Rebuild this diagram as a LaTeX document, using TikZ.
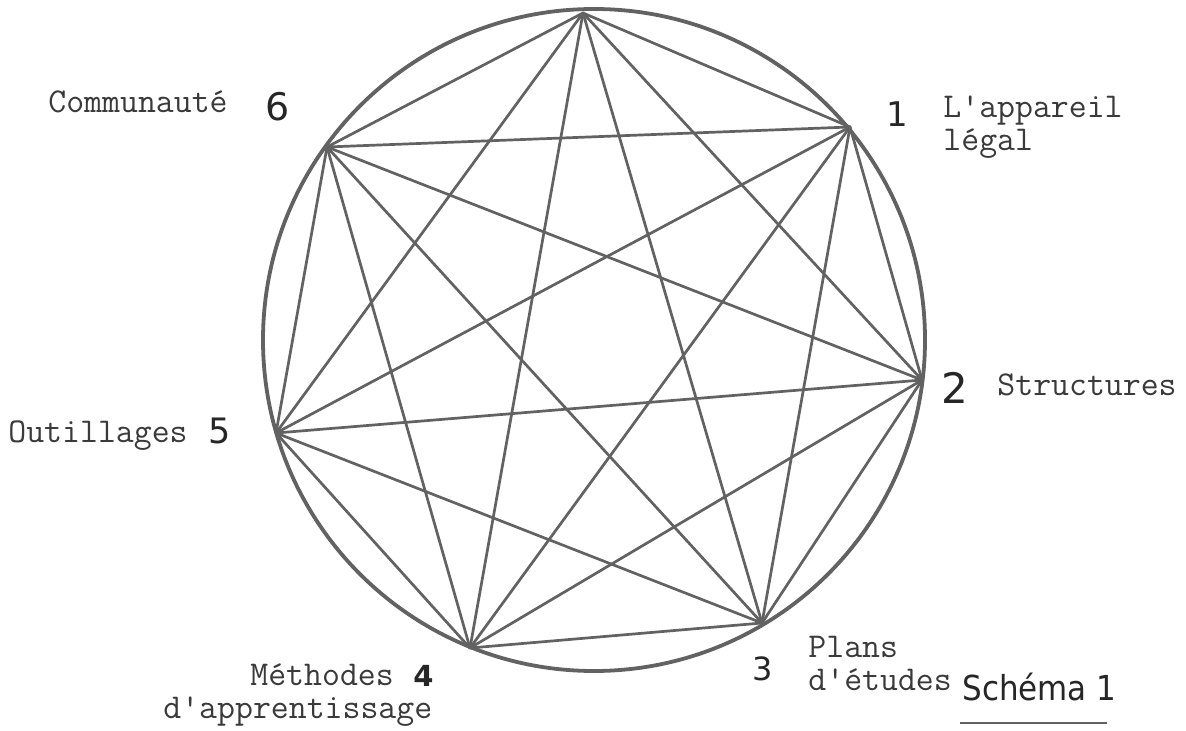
\documentclass[tikz,border=0pt]{standalone}
\usepackage{fontspec}
\newfontfamily\numfont{DejaVu Sans}
\newfontfamily\titlefont{DejaVu Sans Condensed}
\definecolor{linegray}{HTML}{626262}
\definecolor{textgray}{HTML}{3A3A3A}
\begin{document}
\begin{tikzpicture}[x=0.5pt,y=-0.5pt,
  edge/.style={draw=linegray,line width=1.35pt,line cap=round},
  rim/.style={draw=linegray,line width=1.9pt},
  lbl/.style={inner sep=0pt,anchor=base west,text=textgray,font=\ttfamily\fontsize{17.4}{16.5}\selectfont,align=left},
  num/.style={inner sep=0pt,anchor=base west,text=black!85}]
\useasboundingbox (0,0) rectangle (1186,731);
\fill[white] (0,0) rectangle (1186,731);
\coordinate (c) at (594,340);
\draw[rim] (c) circle[radius=165.5pt];
\coordinate (v0) at (583,13);
\coordinate (v1) at (850,127);
\coordinate (v2) at (922,380);
\coordinate (v3) at (762,623);
\coordinate (v4) at (470,648);
\coordinate (v5) at (276,433);
\coordinate (v6) at (327,147);
\foreach \i in {0,...,5}{
  \pgfmathtruncatemacro\s{\i+1}
  \foreach \j in {\s,...,6}{
    \draw[edge] (v\i) -- (v\j);
  }
}
% labels
\node[lbl] (tcom) at (48,113) {Communauté};
\node[lbl] (tapp) at (943,151) {L'appareil\\légal};
\node[lbl] (tstr) at (997,395) {Structures};
\node[lbl] (tout) at (8,442) {Outillages};
\node[lbl] (tmet) at (250,685) {Méthodes};
\node[lbl] (tmet2) at (163,718) {d'apprentissage};
\node[lbl] (tpla) at (808,690) {Plans\\d'études};
% numbers
\node[num,font=\numfont\fontsize{19}{19}\selectfont] (n6) at (265,121) {6};
\node[num,font=\numfont\fontsize{17}{17}\selectfont] (n1) at (886,127) {1};
\node[num,font=\numfont\fontsize{21}{21}\selectfont] (n2) at (941,403) {2};
\node[num,font=\numfont\fontsize{17.5}{17.5}\selectfont] (n5) at (208,443) {5};
\node[num,font=\numfont\bfseries\fontsize{14.5}{14.5}\selectfont] (n4) at (413,686) {4};
\node[num,font=\numfont\fontsize{16}{16}\selectfont] (n3) at (752,680) {3};
% title
\node[num,font=\titlefont\fontsize{17.2}{17.2}\selectfont,text=black!85] (title) at (962,700) {Schéma 1};
\coordinate (ulA) at (960,723);
\coordinate (ulB) at (1107,723);
\draw[draw=linegray,line width=1pt] (ulA) -- (ulB);
\end{tikzpicture}
\end{document}
